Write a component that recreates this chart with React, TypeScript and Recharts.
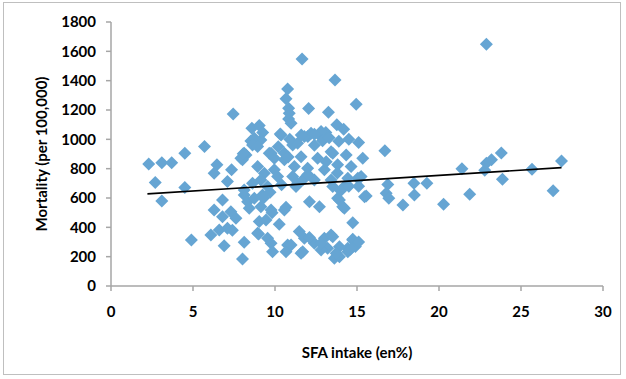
import React from "react";
import { ScatterChart, Scatter, XAxis, YAxis, Label } from "recharts";

const sfaIntake: number[] = [
  2.3, 3.1, 3.7, 4.5, 5.7, 2.7, 4.5, 3.1, 4.9, 7.45,
  11.65, 13.66, 10.77, 10.67, 10.83, 10.83, 12.05, 13.26, 14.95, 13.77,
  14.19, 13.89, 15.1, 10.37, 8.59, 9.04, 9.25, 9.14, 8.53, 12.0,
  12.7, 13.1, 11.08, 9.76, 8.23, 13.52, 14.34, 22.89, 16.7, 23.8,
  27.47, 15.35, 21.4, 22.89, 23.2, 22.79, 23.87, 25.67, 26.96, 16.88,
  16.78, 16.94, 15.56, 17.8, 18.47, 18.5, 19.26, 20.28, 21.87, 15.05,
  14.23, 13.93, 14.23, 14.74, 14.74, 14.44, 13.93,
  8.74, 10.32, 8.63, 8.12, 8.02, 9.65, 9.96, 6.46, 6.29, 7.35,
  7.1, 8.94, 9.35, 9.14, 9.96, 10.57, 10.16,
  10.87, 10.98, 12.2, 12.81, 11.79, 11.38, 13.42, 10.57, 11.59, 12.6,
  11.18, 11.99, 13.01, 13.82, 14.64, 13.42, 14.44, 12.4, 11.38, 15.25,
  6.8, 6.29, 6.8, 7.31, 7.62, 6.09, 6.6, 7.1, 6.9, 8.12,
  8.02, 8.12, 8.33, 8.74, 8.43, 9.14, 9.76, 10.57, 9.04, 9.45,
  10.26, 8.94, 9.55, 9.76, 9.85, 10.77, 10.67, 8.12, 9.24,
  15.46, 12.1, 12.71, 13.82, 14.13, 11.48, 11.79, 10.98, 11.59, 12.4,
  13.01, 13.42, 13.62, 13.93, 14.44, 14.74, 13.21, 12.81,
  7.4, 7.92, 8.06, 8.94, 10.67, 9.82, 9.0, 11.69, 12.1, 12.81,
  13.52, 13.73, 9.55, 8.63, 11.08, 11.28, 11.69, 13.12, 13.52,
  10.2, 10.9, 12.4, 12.9, 11.6, 13.3, 14.5, 10.8, 12.4, 14.0,
  14.5, 15.1, 13.8, 14.9, 15.1, 14.6, 9.7, 10.4, 9.3, 12.0,
];

const mortality: number[] = [
  832, 841, 841, 905, 951, 705, 671, 580, 314, 1172,
  1547, 1404, 1344, 1276, 1212, 1139, 1210, 1185, 1240, 1099,
  1068, 987, 978, 1030, 1076, 1095, 1046, 996, 989, 1019,
  1030, 1046, 962, 905, 894, 905, 894, 1649, 923, 907,
  852, 871, 800, 837, 860, 789, 728, 796, 650, 692,
  633, 598, 614, 553, 701, 621, 701, 557, 626, 735,
  678, 587, 530, 432, 319, 257, 200,
  1008, 1037, 962, 905, 860, 905, 871, 826, 769, 792,
  712, 814, 769, 723, 792, 860, 746,
  1178, 1110, 1042, 1053, 1019, 974, 916, 905, 882, 871,
  814, 803, 792, 826, 814, 723, 735, 723, 701, 746,
  587, 519, 473, 507, 462, 348, 382, 394, 275, 298,
  184, 621, 575, 598, 530, 541, 519, 519, 439, 450,
  421, 360, 325, 291, 234, 280, 234, 655, 621,
  609, 575, 541, 598, 541, 371, 325, 280, 223, 291,
  325, 348, 189, 268, 234, 314, 257, 246,
  380, 871, 901, 951, 537, 500, 355, 234, 330, 291,
  336, 223, 678, 701, 746, 678, 723, 848, 678,
  950, 1000, 960, 990, 1030, 1010, 1000, 880, 1035, 650,
  680, 680, 770, 270, 300, 250, 640, 690, 600, 760,
];

const trendX: number[] = [2.22, 27.47];
const trendY: number[] = [628, 807];

const xTicks: number[] = [0, 5, 10, 15, 20, 25, 30];
const yTicks: number[] = [0, 200, 400, 600, 800, 1000, 1200, 1400, 1600, 1800];

const points = sfaIntake.map((x, i) => ({ x, y: mortality[i] }));
const trend = trendX.map((x, i) => ({ x, y: trendY[i] }));

const MARKER = "#66A5D3";
const AXIS = "#A6A6A6";
const FONT = "Lato, 'Open Sans', sans-serif";
const FS = 15;

const Diamond = (props: any) => {
  const { cx, cy } = props;
  if (cx == null || cy == null) return <g />;
  const r = 6.5;
  return (
    <polygon
      points={`${cx},${cy - r} ${cx + r},${cy} ${cx},${cy + r} ${cx - r},${cy}`}
      fill={MARKER}
    />
  );
};

const NoShape = () => <g />;

export default function App() {
  return (
    <div style={{ position: "absolute", left: 0, top: 0, width: 626, height: 379, background: "#fff" }}>
      <div
        style={{
          position: "absolute",
          left: 3,
          top: 2,
          width: 618,
          height: 373,
          border: "1px solid #BFBFBF",
          boxSizing: "border-box",
        }}
      />
      <ScatterChart
        width={626}
        height={379}
        margin={{ top: 22, right: 23, bottom: 13, left: 0 }}
        style={{ position: "absolute", left: 0, top: 0 }}
      >
        <XAxis
          type="number"
          dataKey="x"
          domain={[0, 30]}
          ticks={xTicks}
          allowDataOverflow
          height={80}
          axisLine={{ stroke: AXIS, strokeWidth: 1.5 }}
          tickLine={{ stroke: AXIS, strokeWidth: 1.5 }}
          tickSize={5}
          tickMargin={15}
          tick={{ fill: "#000", fontSize: FS, fontWeight: 700, fontFamily: FONT }}
        >
          <Label
            content={(p: any) => {
              const vb = p.viewBox || {};
              return (
                <text
                  x={vb.x + vb.width / 2}
                  y={vb.y + 66}
                  textAnchor="middle"
                  dominantBaseline="central"
                  fontSize={FS}
                  fontWeight={700}
                  fontFamily={FONT}
                  fill="#000"
                >
                  SFA intake (en%)
                </text>
              );
            }}
          />
        </XAxis>
        <YAxis
          type="number"
          dataKey="y"
          domain={[0, 1800]}
          ticks={yTicks}
          allowDataOverflow
          width={111}
          axisLine={{ stroke: AXIS, strokeWidth: 1.5 }}
          tickLine={{ stroke: AXIS, strokeWidth: 1.5 }}
          tickSize={5}
          tickMargin={10}
          tick={{ fill: "#000", fontSize: FS, fontWeight: 700, fontFamily: FONT }}
        >
          <Label
            content={(p: any) => {
              const vb = p.viewBox || {};
              const cx = 41;
              const cy = vb.y + vb.height / 2;
              return (
                <text
                  x={cx}
                  y={cy}
                  transform={`rotate(-90 ${cx} ${cy})`}
                  textAnchor="middle"
                  dominantBaseline="central"
                  fontSize={FS}
                  fontWeight={700}
                  fontFamily={FONT}
                  fill="#000"
                >
                  Mortality (per 100,000)
                </text>
              );
            }}
          />
        </YAxis>
        <Scatter data={points} shape={Diamond} isAnimationActive={false} />
        <Scatter
          data={trend}
          shape={NoShape}
          line={{ stroke: "#000", strokeWidth: 1.6 }}
          lineType="joint"
          isAnimationActive={false}
        />
      </ScatterChart>
    </div>
  );
}
